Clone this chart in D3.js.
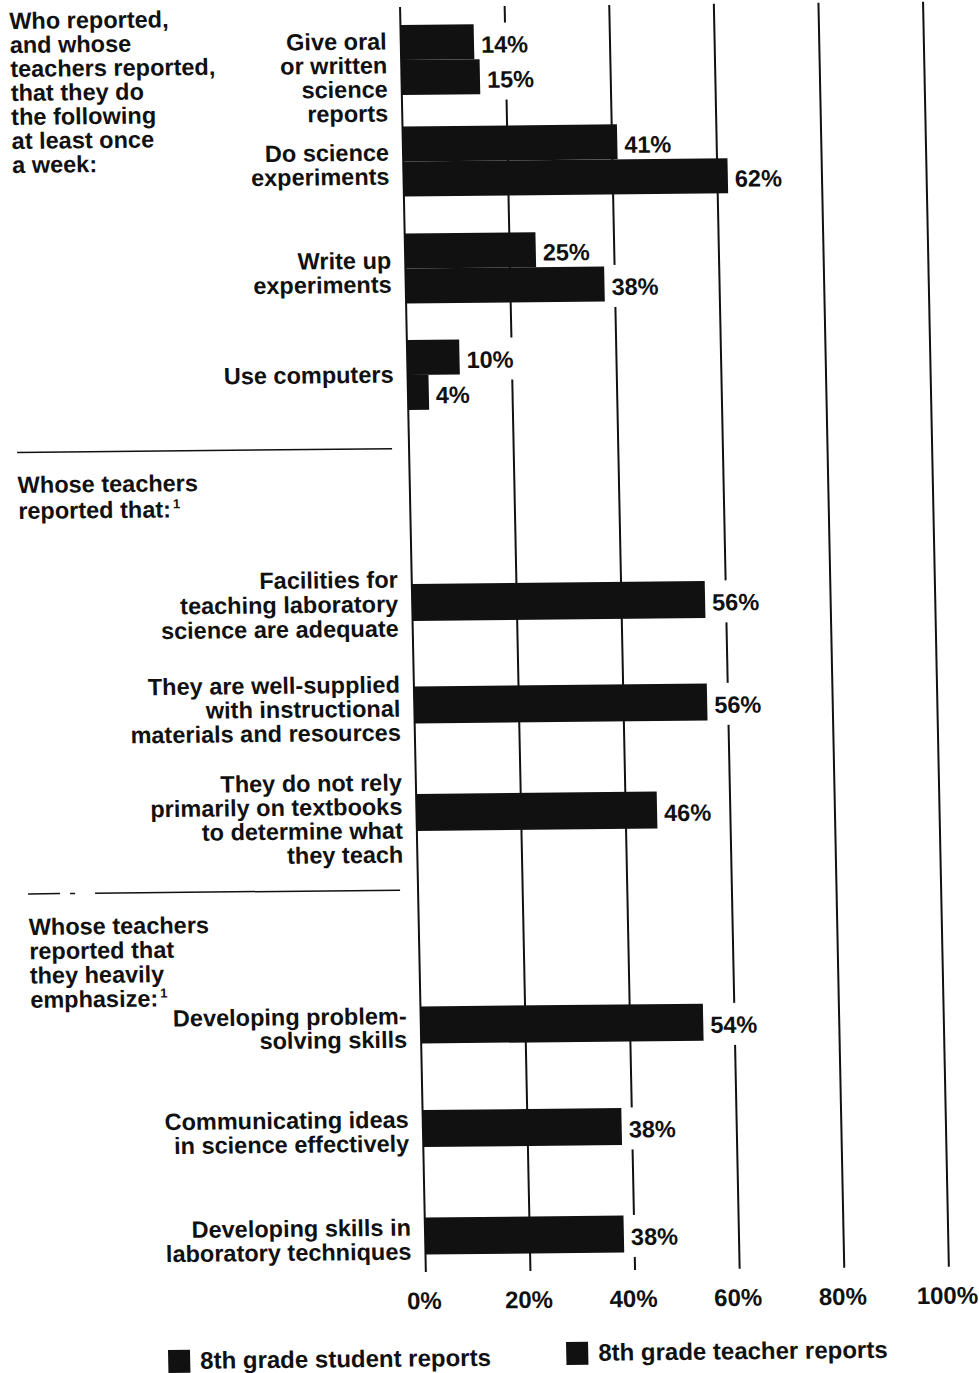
<!DOCTYPE html>
<html><head><meta charset="utf-8">
<script src="https://cdn.jsdelivr.net/npm/d3@7"></script>
<style>
html,body{margin:0;padding:0;background:#fff;}
svg{display:block;}
</style></head><body>
<svg id="chart" width="979" height="1373"></svg>
<script>
// ---------------- DATA ----------------
const weeklyCategories = ["Give oral or written science reports", "Do science experiments", "Write up experiments", "Use computers"];
const weeklyLabelLines = [["Give oral", "or written", "science", "reports"], ["Do science", "experiments"], ["Write up", "experiments"], ["Use computers"]];
const studentReports = [14, 41, 25, 10];
const teacherReports = [15, 62, 38, 4];

const resourceCategories = ["Facilities adequate", "Well-supplied", "Do not rely on textbooks"];
const resourceLabelLines = [["Facilities for", "teaching laboratory", "science are adequate"], ["They are well-supplied", "with instructional", "materials and resources"], ["They do not rely", "primarily on textbooks", "to determine what", "they teach"]];
const resourceTeacherValues = [56, 56, 46];

const emphasisCategories = ["Problem-solving", "Communicating ideas", "Laboratory techniques"];
const emphasisLabelLines = [["Developing problem-", "solving skills"], ["Communicating ideas", "in science effectively"], ["Developing skills in", "laboratory techniques"]];
const emphasisTeacherValues = [54, 38, 38];

const tickValues = [0, 20, 40, 60, 80, 100];
const tickLabels = ["0%", "20%", "40%", "60%", "80%", "100%"];
const seriesNames = ["8th grade student reports", "8th grade teacher reports"];

const header1Lines = ["Who reported,", "and whose", "teachers reported,", "that they do", "the following", "at least once", "a week:"];
const header2Lines = ["Whose teachers", "reported that:"];
const header3Lines = ["Whose teachers", "reported that", "they heavily", "emphasize:"];

// ---------------- LAYOUT ----------------
const allCategories = weeklyCategories.concat(resourceCategories, emphasisCategories);
const rowCenters = [60, 161.5, 268.5, 375, 602.5, 705, 812.5, 1025, 1128.5, 1236];
const labelFirstBaselineOffset = [-10.7, -1, 0, 7.5, -15, -12.5, -22, -1, -1, -0.5];
const labelLineHeight = [24, 24, 24, 24, 24.5, 24, 24, 23.5, 24, 24];
const pairBarH = 35, singleBarH = 37;
const ink = "#111";
const FONT = "'Liberation Sans', Arial, Helvetica, sans-serif";

const svg = d3.select("#chart");
svg.append("rect").attr("width", 979).attr("height", 1373).attr("fill", "#fff");
// slight skew of the scanned page
const g = svg.append("g").attr("transform", "matrix(1,-0.01,0.0204,1,-0.102,4)");

const x = d3.scaleLinear().domain([0, 100]).range([400, 923]);
const yRow = d3.scaleOrdinal().domain(allCategories).range(rowCenters);
const ySeries = d3.scaleBand().domain(seriesNames).range([-pairBarH, pairBarH]).paddingInner(0);

// gridlines
g.append("g").selectAll("line").data(tickValues).join("line")
  .attr("x1", d => x(d)).attr("x2", d => x(d))
  .attr("y1", 7).attr("y2", 1272)
  .attr("stroke", ink).attr("stroke-width", 2);

// bar records
const bars = [];
weeklyCategories.forEach((c, i) => {
  bars.push({cat: c, series: seriesNames[0], v: studentReports[i], y0: yRow(c) + ySeries(seriesNames[0]), h: ySeries.bandwidth()});
  bars.push({cat: c, series: seriesNames[1], v: teacherReports[i], y0: yRow(c) + ySeries(seriesNames[1]), h: ySeries.bandwidth()});
});
resourceCategories.forEach((c, i) => bars.push({cat: c, series: seriesNames[1], v: resourceTeacherValues[i], y0: yRow(c) - singleBarH / 2, h: singleBarH}));
emphasisCategories.forEach((c, i) => bars.push({cat: c, series: seriesNames[1], v: emphasisTeacherValues[i], y0: yRow(c) - singleBarH / 2, h: singleBarH}));

// value label backgrounds (they interrupt gridlines)
const labelFont = 23.5;
g.append("g").selectAll("rect").data(bars).join("rect")
  .attr("x", d => x(d.v) + 4)
  .attr("y", d => d.y0 + d.h / 2 - 19)
  .attr("width", d => (String(d.v).length + 1.6) * labelFont * 0.556 + 6)
  .attr("height", 42)
  .attr("fill", "#fff");

// bars
g.append("g").selectAll("rect").data(bars).join("rect")
  .attr("x", x(0)).attr("y", d => d.y0)
  .attr("width", d => x(d.v) - x(0)).attr("height", d => d.h)
  .attr("fill", ink);

// value labels
g.append("g").selectAll("text").data(bars).join("text")
  .attr("x", d => x(d.v) + 7)
  .attr("y", d => d.y0 + d.h / 2 + 11)
  .attr("font-family", FONT).attr("font-weight", "bold").attr("font-size", labelFont)
  .attr("fill", ink)
  .text(d => d.v + "%");

// category labels
const allLabelLines = weeklyLabelLines.concat(resourceLabelLines, emphasisLabelLines);
allCategories.forEach((c, i) => {
  const t = g.append("text")
    .attr("text-anchor", "end")
    .attr("font-family", FONT).attr("font-weight", "bold").attr("font-size", labelFont)
    .attr("fill", ink);
  allLabelLines[i].forEach((ln, j) => {
    t.append("tspan").attr("x", 386).attr("y", yRow(c) + labelFirstBaselineOffset[i] + j * labelLineHeight[i]).text(ln);
  });
});

// section headers
function header(lines, x0, y0, lh, sup) {
  const t = g.append("text").attr("font-family", FONT).attr("font-weight", "bold")
    .attr("font-size", 23.5).attr("fill", ink);
  lines.forEach((ln, j) => {
    t.append("tspan").attr("x", x0).attr("y", y0 + j * lh).text(ln);
  });
  if (sup) {
    t.append("tspan").attr("dx", 2).attr("dy", -9).attr("font-size", 13).text("1");
  }
}
header(header1Lines, 9, 25, 24, false);
header(header2Lines, 8, 489, 26, true);
header(header3Lines, 10, 931, 24.3, true);

// separators
g.append("line").attr("x1", 8).attr("x2", 383).attr("y1", 448.5).attr("y2", 448.5)
  .attr("stroke", ink).attr("stroke-width", 1.5);
const sep2 = [[10, 42], [52, 57], [77, 382]];
g.append("g").selectAll("line").data(sep2).join("line")
  .attr("x1", d => d[0]).attr("x2", d => d[1]).attr("y1", 890).attr("y2", 890)
  .attr("stroke", ink).attr("stroke-width", 1.5);

// axis tick labels
g.append("g").selectAll("text").data(tickValues).join("text")
  .attr("x", d => x(d) - 2).attr("y", 1309).attr("text-anchor", "middle")
  .attr("font-family", FONT).attr("font-weight", "bold").attr("font-size", 24)
  .attr("fill", ink)
  .text((d, i) => tickLabels[i]);

// legend
const legendPos = [[140.6, 1347.4], [538.7, 1343.4]];
const lg = g.append("g").selectAll("g").data(seriesNames).join("g")
  .attr("transform", (d, i) => `translate(${legendPos[i][0]},${legendPos[i][1]})`);
lg.append("rect").attr("width", 22).attr("height", 23).attr("fill", ink);
lg.append("text").attr("x", 32).attr("y", 19)
  .attr("font-family", FONT).attr("font-weight", "bold").attr("font-size", 24)
  .attr("fill", ink).text(d => d);
</script>
</body></html>
